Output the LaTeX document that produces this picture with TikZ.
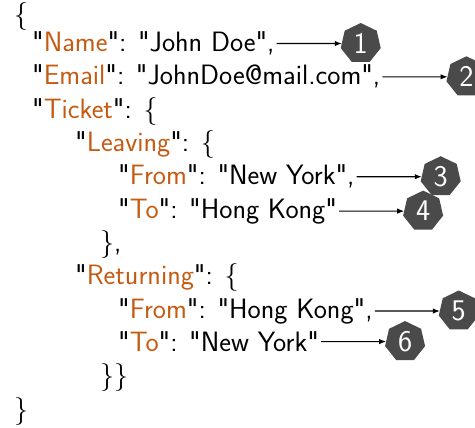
\documentclass[tikz,border=0pt]{standalone}
\usepackage{fontspec}
\setsansfont{Latin Modern Sans}[Ligatures=TeXOff]
\usetikzlibrary{shapes.geometric,arrows.meta}
\definecolor{keyorange}{HTML}{C55A11}
\definecolor{badgegray}{HTML}{4A4A4A}
\newcommand{\jkey}[1]{"\textcolor{keyorange}{#1}"}
\begin{document}
\begin{tikzpicture}[x=1pt,y=-1pt,
  jline/.style={anchor=base west,inner xsep=2pt,inner ysep=0pt,
    font=\fontsize{28}{32}\sffamily},
  badge/.style={regular polygon,regular polygon sides=7,fill=badgegray,
    draw=none,minimum size=41pt,inner sep=0pt,outer sep=0pt,text=white,
    font=\fontsize{30}{34}\sffamily},
  arr/.style={line width=1.1pt,-{Latex[length=7pt,width=5.5pt]}}]
\useasboundingbox (0,0) rectangle (475,428);

% JSON text, one node per line (baselines 33.3pt apart)
\node[jline] (l0)  at (12,24)  {\{};
\node[jline] (l1)  at (30,51.7)  {\jkey{Name}: "John Doe",};
\node[jline] (l2)  at (30,85.0)  {\jkey{Email}: "JohnDoe@mail.com",};
\node[jline] (l3)  at (30,118.3) {\jkey{Ticket}: \{};
\node[jline] (l4)  at (73,151.6) {\jkey{Leaving}: \{};
\node[jline] (l5)  at (116,184.9) {\jkey{From}: "New York",};
\node[jline] (l6)  at (116,218.2) {\jkey{To}: "Hong Kong"};
\node[jline] (l7)  at (98,251.5) {\},};
\node[jline] (l8)  at (73,284.8) {\jkey{Returning}: \{};
\node[jline] (l9)  at (116,318.1) {\jkey{From}: "Hong Kong",};
\node[jline] (l10) at (116,351.4) {\jkey{To}: "New York"};
\node[jline] (l11) at (98,384.7) {\}\}};
\node[jline] (l12) at (12,418.0) {\}};

% numbered markers
\node[badge] (b1) at ([xshift=84pt]l1.east)  {1};
\node[badge] (b2) at ([xshift=84pt]l2.east)  {2};
\node[badge] (b3) at ([xshift=84pt]l5.east)  {3};
\node[badge] (b4) at ([xshift=84pt]l6.east)  {4};
\node[badge] (b5) at ([xshift=84pt]l9.east)  {5};
\node[badge] (b6) at ([xshift=84pt]l10.east) {6};

\draw[arr] (l1.east)  -- (b1);
\draw[arr] (l2.east)  -- (b2);
\draw[arr] (l5.east)  -- (b3);
\draw[arr] (l6.east)  -- (b4);
\draw[arr] (l9.east)  -- (b5);
\draw[arr] (l10.east) -- (b6);
\end{tikzpicture}
\end{document}
